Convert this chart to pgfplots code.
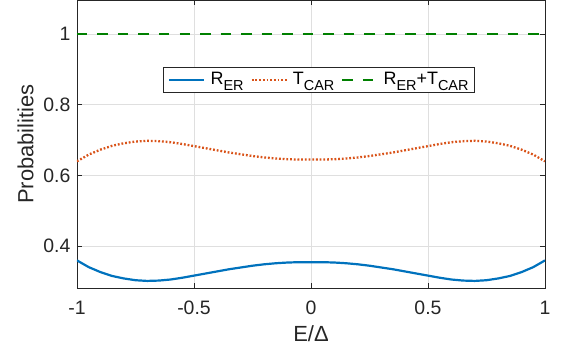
\documentclass[border=0pt]{standalone}
\usepackage{pgfplots}
\pgfplotsset{compat=1.18}
\usepackage{fontspec}
\setmainfont{Liberation Sans}
\definecolor{mblue}{rgb}{0,0.447,0.741}
\definecolor{morange}{rgb}{0.85,0.325,0.098}
\definecolor{mgreen}{rgb}{0,0.5,0}
\definecolor{axgray}{rgb}{0.15,0.15,0.15}
\newcommand\sub[1]{\raisebox{-6bp}{\fontsize{14.5}{15}\selectfont #1}}
\pgfplotstableread{
x R
-1.00 0.360
-0.95 0.341
-0.90 0.327
-0.85 0.316
-0.80 0.309
-0.75 0.304
-0.70 0.302
-0.65 0.303
-0.60 0.306
-0.55 0.311
-0.50 0.317
-0.45 0.323
-0.40 0.329
-0.35 0.335
-0.30 0.340
-0.25 0.345
-0.20 0.349
-0.15 0.352
-0.10 0.354
-0.05 0.355
0.00 0.355
0.05 0.355
0.10 0.354
0.15 0.352
0.20 0.349
0.25 0.345
0.30 0.340
0.35 0.335
0.40 0.329
0.45 0.323
0.50 0.317
0.55 0.311
0.60 0.306
0.65 0.303
0.70 0.302
0.75 0.304
0.80 0.309
0.85 0.316
0.90 0.327
0.95 0.341
1.00 0.360
}\dataR
\pgfplotstableread{
x T
-1.00 0.640
-0.95 0.659
-0.90 0.673
-0.85 0.684
-0.80 0.691
-0.75 0.696
-0.70 0.698
-0.65 0.697
-0.60 0.694
-0.55 0.689
-0.50 0.683
-0.45 0.677
-0.40 0.671
-0.35 0.665
-0.30 0.660
-0.25 0.655
-0.20 0.651
-0.15 0.648
-0.10 0.646
-0.05 0.645
0.00 0.645
0.05 0.645
0.10 0.646
0.15 0.648
0.20 0.651
0.25 0.655
0.30 0.660
0.35 0.665
0.40 0.671
0.45 0.677
0.50 0.683
0.55 0.689
0.60 0.694
0.65 0.697
0.70 0.698
0.75 0.696
0.80 0.691
0.85 0.684
0.90 0.673
0.95 0.659
1.00 0.640
}\dataT
\pgfplotstableread{
x S
-1 1
1 1
}\dataS
\begin{document}
\fontsize{19.5}{23}\selectfont
\begin{tikzpicture}
\begin{axis}[
  at={(0,0)}, anchor=south west,
  scale only axis,
  width=468bp, height=288bp,
  xmin=-1, xmax=1, ymin=0.282, ymax=1.096,
  xtick={-1,-0.5,0,0.5,1},
  ytick={0.4,0.6,0.8,1},
  xticklabels={-1,-0.5,0,0.5,1},
  yticklabels={0.4,0.6,0.8,1},
  tick align=inside,
  major tick length=5bp,
  tick style={axgray, line width=0.7bp},
  axis line style={axgray, line width=0.7bp},
  grid=major,
  grid style={gray!25, line width=0.7bp},
  ticklabel style={font=\fontsize{19.5}{23}\selectfont, text=axgray},
  xticklabel style={yshift=-6.5bp},
  yticklabel style={xshift=0bp},
  xlabel={E/Δ},
  ylabel={Probabilities},
  label style={font=\fontsize{22}{26}\selectfont, text=axgray},
  xlabel style={at={(axis description cs:0.5,-0.16)}, anchor=center},
  ylabel style={at={(axis description cs:-0.11,0.5)}, anchor=center},
  legend columns=3,
  legend style={at={(axis description cs:0.517,0.722)}, anchor=center,
    draw=axgray, line width=0.7bp, fill=white,
    font=\fontsize{18}{20}\selectfont, text=black,
    inner xsep=5bp, inner ysep=4bp,
    nodes={inner sep=1bp},
    /tikz/every odd column/.append style={column sep=4bp},
    /tikz/every even column/.append style={column sep=6bp}},
  legend image code/.code={\draw[#1] (0bp,0bp) -- (35bp,0bp);},
]
\addplot[mblue, line width=2.2bp] table[x=x,y=R]{\dataR};
\addlegendentry{R\sub{ER}}
\addplot[morange, line width=2.3bp, dash pattern=on 1.8bp off 1.9bp] table[x=x,y=T]{\dataT};
\addlegendentry{T\sub{CAR}}
\addplot[mgreen, line width=2.2bp, dash pattern=on 10.5bp off 10bp] table[x=x,y=S]{\dataS};
\addlegendentry{R\sub{ER}+T\sub{CAR}}
\end{axis}
\pgfresetboundingbox
\useasboundingbox (-77bp,-65bp) rectangle (490bp,288bp);
\end{tikzpicture}
\end{document}
